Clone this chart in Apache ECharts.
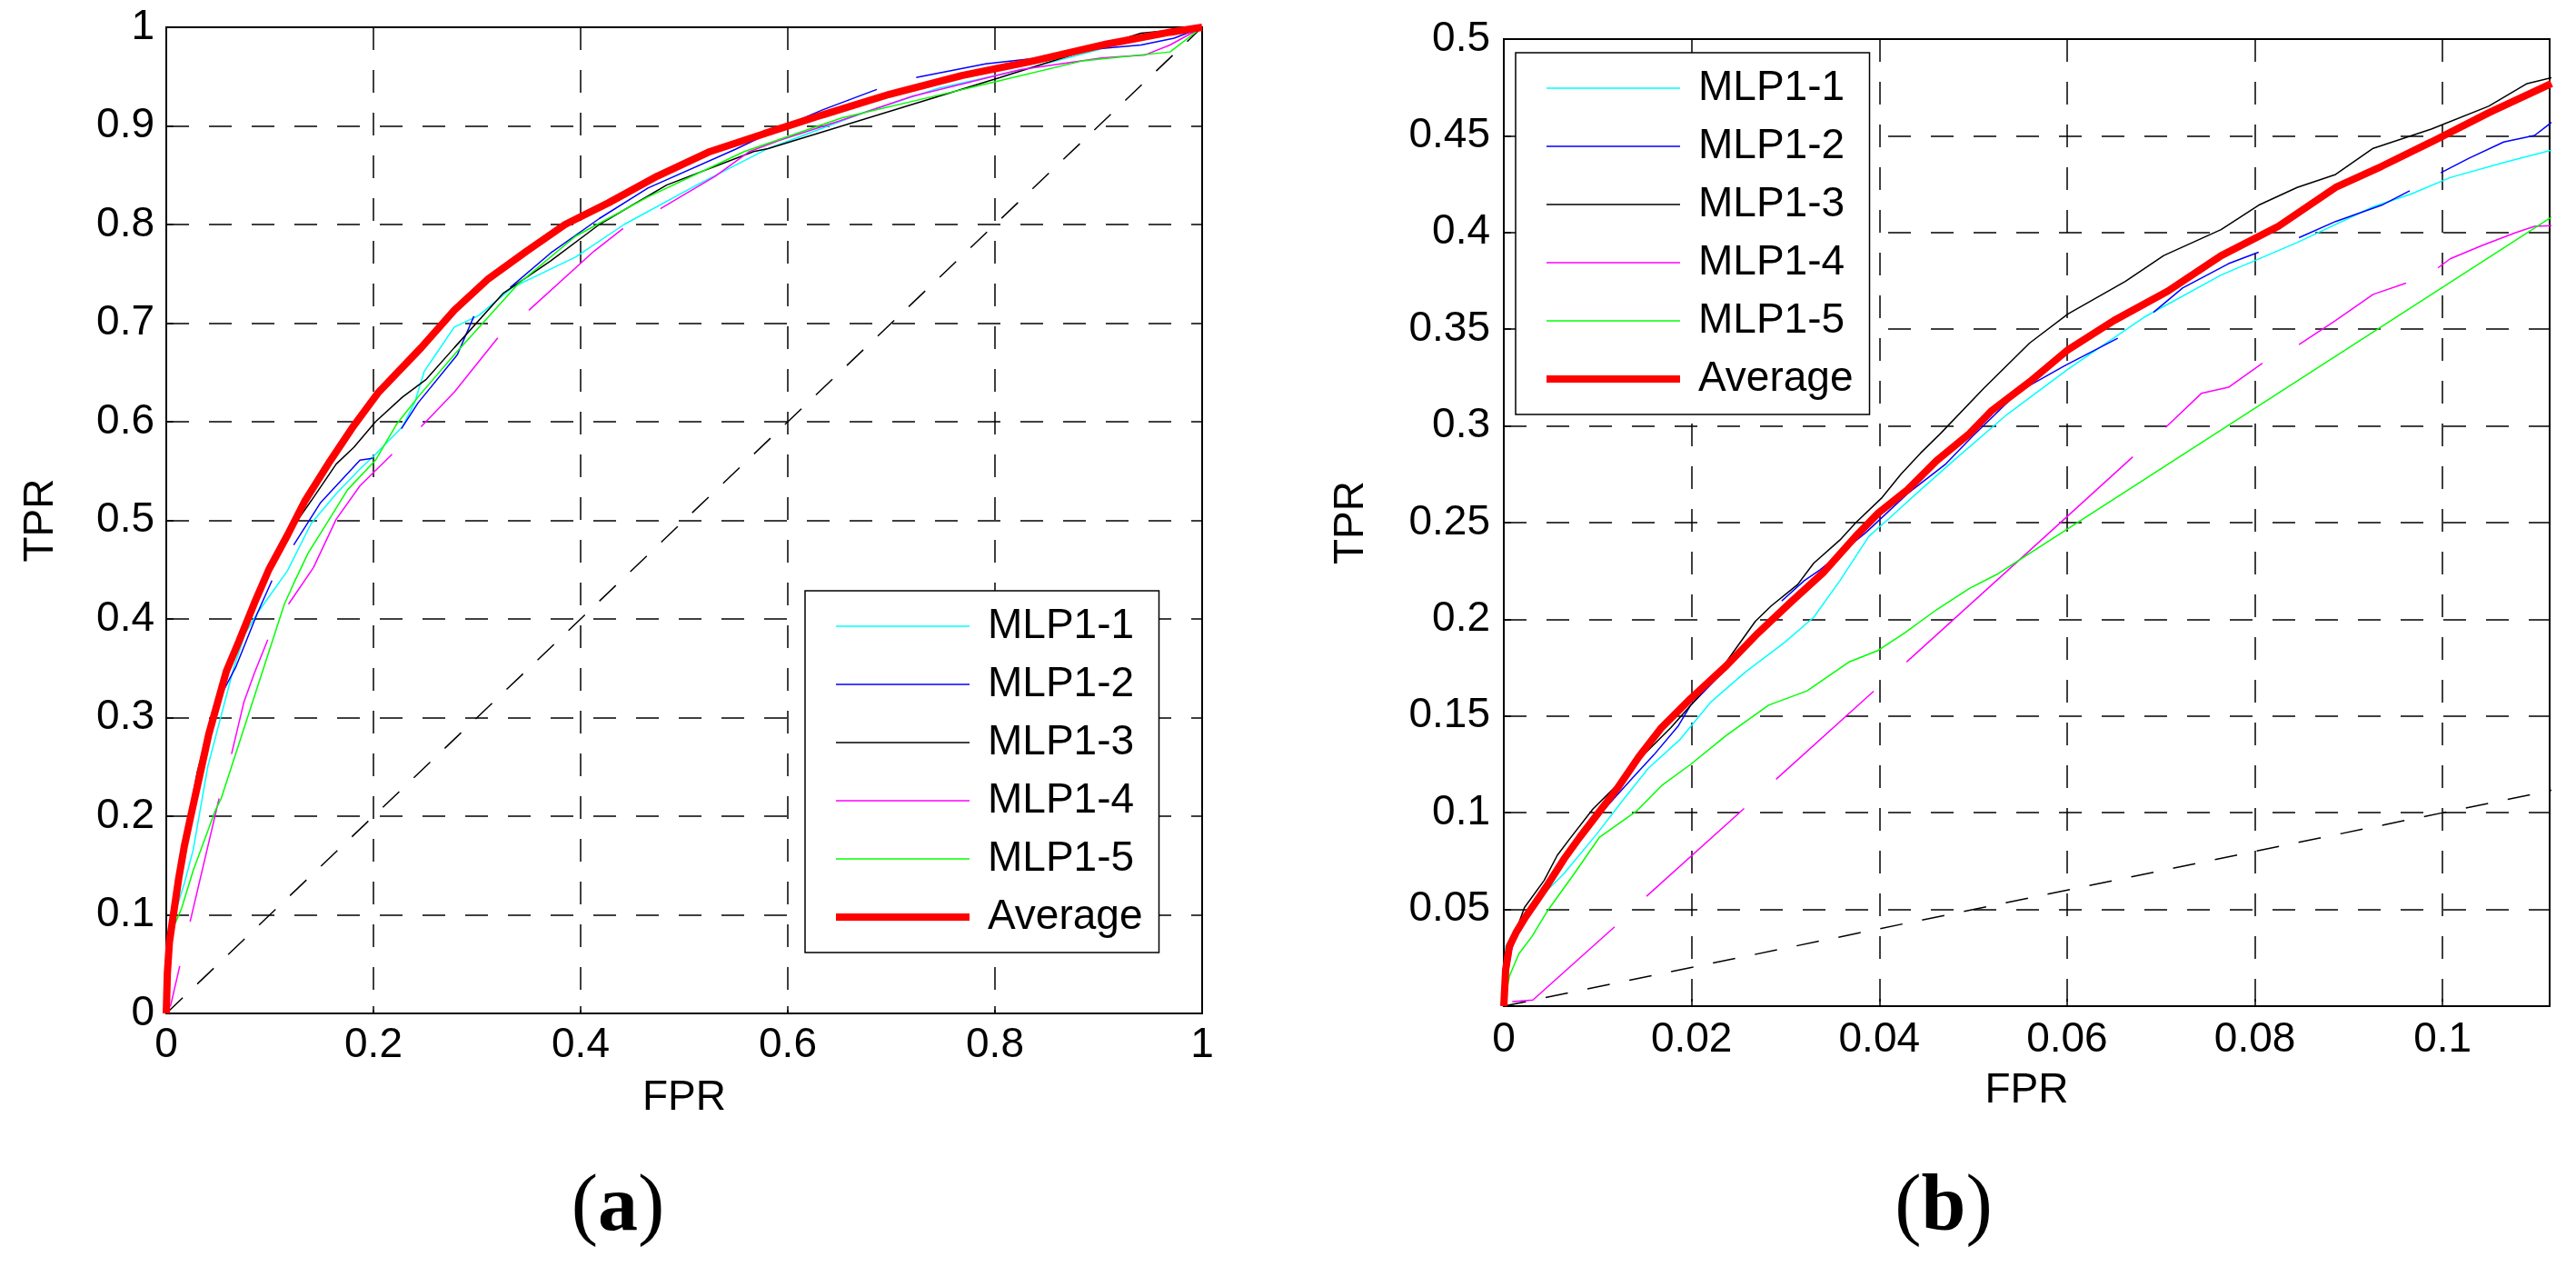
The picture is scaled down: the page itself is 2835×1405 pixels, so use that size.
<!DOCTYPE html>
<html>
<head>
<meta charset="utf-8">
<title>ROC MLP1</title>
<script src="https://cdn.jsdelivr.net/npm/echarts@6/dist/echarts.min.js"></script>
<style>
  html, body { margin: 0; padding: 0; background: #fff; }
  #chart { width: 2835px; height: 1405px; }
</style>
</head>
<body>
<div id="chart"></div>
<script type="text/javascript">
// legend / series names
var names = ['MLP1-1', 'MLP1-2', 'MLP1-3', 'MLP1-4', 'MLP1-5', 'Average'];
var colors = ['#00ffff', '#0000ff', '#000000', '#ff00ff', '#00ff00', '#ff0000'];

// tick labels
var ticksXa = [0, 0.2, 0.4, 0.6, 0.8, 1];
var ticksYa = [0, 0.1, 0.2, 0.3, 0.4, 0.5, 0.6, 0.7, 0.8, 0.9, 1];
var ticksXb = [0, 0.02, 0.04, 0.06, 0.08, 0.1];
var ticksYb = [0.05, 0.1, 0.15, 0.2, 0.25, 0.3, 0.35, 0.4, 0.45, 0.5];

// ---- panel (a): full ROC, [FPR, TPR], null = break in the curve
var a_mlp11 = [[0,0],[0.003,0.06],[0.008,0.1],[0.0175,0.132],[0.026,0.166],[0.04,0.25],[0.055,0.31],[0.065,0.35],
  [0.076,0.385],[0.088,0.406],[0.117,0.449],[0.14,0.497],[0.164,0.527],[0.187,0.552],[0.202,0.567],[0.228,0.595],
  [0.24,0.62],[0.249,0.651],[0.26,0.668],[0.278,0.696],[0.302,0.708],[0.334,0.736],[0.395,0.767],[0.442,0.8],
  [0.512,0.84],[0.581,0.877],[0.675,0.914],[0.745,0.938],[0.838,0.96],[0.917,0.982],[1,1]];
var a_mlp12 = [[0,0],[0.003,0.07],[0.012,0.14],[0.025,0.21],[0.04,0.28],[0.05,0.317],[0.067,0.351],[0.088,0.406],[0.102,0.439],null,
  [0.123,0.475],[0.149,0.518],[0.187,0.561],[0.199,0.563],null,
  [0.227,0.593],[0.243,0.619],[0.281,0.668],[0.297,0.707],null,
  [0.332,0.736],[0.371,0.771],[0.418,0.806],[0.465,0.837],[0.549,0.876],[0.595,0.899],[0.633,0.916],[0.686,0.937],null,
  [0.724,0.949],[0.791,0.963],[0.842,0.969],[0.899,0.978],[0.941,0.982],[0.973,0.989],[1,1]];
var a_mlp13 = [[0,0],[0.002,0.06],[0.005,0.09],[0.012,0.14],[0.02,0.19],[0.03,0.245],[0.04,0.285],[0.05,0.322],[0.06,0.355],
  [0.079,0.406],[0.1,0.45],[0.12,0.49],[0.14,0.52],[0.164,0.557],[0.181,0.574],[0.202,0.6],[0.228,0.625],[0.251,0.643],
  [0.278,0.675],[0.325,0.73],[0.371,0.763],[0.418,0.8],[0.483,0.84],[0.567,0.874],[0.581,0.877],[0.805,0.949],[0.941,0.994],[1,1]];
var a_mlp14 = [[0.004,0.007],[0.013,0.048],null,
  [0.023,0.093],[0.051,0.218],null,
  [0.063,0.263],[0.075,0.316],[0.085,0.345],[0.098,0.379],null,
  [0.118,0.415],[0.142,0.452],[0.164,0.501],[0.187,0.535],[0.218,0.567],null,
  [0.246,0.595],[0.278,0.63],[0.32,0.685],null,
  [0.35,0.713],[0.413,0.773],[0.441,0.796],null,
  [0.477,0.816],[0.53,0.849],[0.563,0.874],[0.591,0.885],[0.65,0.905],[0.72,0.93],[0.824,0.957],[0.903,0.969],
  [0.945,0.972],[0.969,0.982],[1,1]];
var a_mlp15 = [[0,0],[0.003,0.06],[0.008,0.09],[0.0146,0.106],[0.026,0.145],[0.038,0.179],[0.047,0.205],[0.053,0.218],
  [0.114,0.415],[0.123,0.436],[0.137,0.467],[0.152,0.492],[0.175,0.531],[0.202,0.561],[0.222,0.597],[0.243,0.625],
  [0.278,0.668],[0.339,0.739],[0.395,0.788],[0.465,0.828],[0.558,0.874],[0.652,0.908],[0.745,0.931],[0.801,0.945],
  [0.885,0.966],[0.969,0.975],[1,1]];
var a_avg = [[0,0],[0.001,0.04],[0.003,0.072],[0.006,0.094],[0.012,0.137],[0.0175,0.17],[0.023,0.197],[0.032,0.24],
  [0.041,0.283],[0.05,0.317],[0.058,0.347],[0.07,0.377],[0.085,0.416],[0.099,0.45],[0.117,0.485],[0.134,0.52],
  [0.158,0.56],[0.181,0.596],[0.205,0.63],[0.246,0.675],[0.278,0.713],[0.311,0.745],[0.348,0.773],[0.385,0.8],
  [0.427,0.822],[0.474,0.849],[0.525,0.874],[0.577,0.892],[0.633,0.911],[0.698,0.932],[0.768,0.951],[0.838,0.966],
  [0.908,0.983],[0.969,0.995],[1,1]];
var a_chance = [[0,0],[1,1]];

// ---- panel (b): zoom on low FPR
var b_mlp11 = [[0,0],[0.0002,0.031],[0.0025,0.0496],[0.0064,0.0685],[0.0099,0.089],[0.0126,0.106],[0.0154,0.123],
  [0.0188,0.138],[0.022,0.157],[0.0258,0.173],[0.0299,0.188],[0.033,0.201],[0.0358,0.22],[0.0389,0.243],[0.041,0.252],
  [0.0444,0.267],[0.0479,0.282],[0.0536,0.3059],[0.0601,0.3294],[0.0682,0.3562],[0.0764,0.378],[0.0845,0.3948],
  [0.0926,0.4133],[0.0967,0.42],[0.1008,0.4284],[0.1069,0.4367],[0.1116,0.4426]];
var b_mlp12 = [[0,0],[0.0005,0.025],[0.002,0.045],[0.004,0.06],[0.007,0.08],[0.01,0.098],[0.0137,0.118],[0.016,0.13],
  [0.0186,0.145],[0.0199,0.1556],[0.024,0.176],[0.027,0.193],[0.0285,0.2],null,
  [0.0296,0.2095],[0.032,0.22],[0.0337,0.2256],[0.0386,0.245],[0.043,0.265],[0.047,0.28],[0.05,0.295],[0.0548,0.3176],
  [0.0597,0.331],[0.0654,0.3453],null,
  [0.0692,0.3587],[0.0723,0.3713],[0.0772,0.3839],[0.0804,0.3898],null,
  [0.0847,0.3973],[0.0886,0.4057],[0.0935,0.4141],[0.0965,0.4216],null,
  [0.0998,0.4309],[0.1028,0.4384],[0.1065,0.4468],[0.1098,0.4502],[0.1116,0.4569]];
var b_mlp13 = [[0,0],[0.0005,0.02],[0.001,0.035],[0.0022,0.051],[0.0043,0.065],[0.0057,0.078],[0.0071,0.087],
  [0.0095,0.102],[0.012,0.114],[0.0147,0.129],[0.0178,0.144],[0.0209,0.161],[0.0237,0.178],[0.0268,0.199],
  [0.0285,0.207],[0.0313,0.218],[0.033,0.229],[0.0358,0.241],[0.0375,0.25],[0.0403,0.263],[0.0423,0.275],
  [0.0444,0.286],[0.0465,0.296],[0.0511,0.3193],[0.056,0.3428],[0.0601,0.3579],[0.0662,0.3747],[0.0703,0.3881],
  [0.0764,0.4015],[0.0804,0.4141],[0.0845,0.4233],[0.0886,0.43],[0.0926,0.4435],[0.0988,0.4535],[0.1049,0.4653],
  [0.109,0.477],[0.1116,0.48]];
var b_mlp14 = [[0.0009,0.0023],[0.0031,0.0032],[0.0118,0.041],null,
  [0.0152,0.0568],[0.0256,0.1022],null,
  [0.029,0.1173],[0.0394,0.1628],null,
  [0.0429,0.1779],[0.0568,0.239],[0.067,0.284],null,
  [0.0705,0.2992],[0.0743,0.3168],[0.0772,0.32],[0.0808,0.3324],null,
  [0.0847,0.342],[0.0886,0.3545],[0.0926,0.368],[0.0961,0.3738],null,
  [0.0995,0.3817],[0.1008,0.3864],[0.1041,0.3931],[0.1077,0.3998],[0.1098,0.4032],[0.1116,0.4035]];
var b_mlp15 = [[0,0],[0.0002,0.006],[0.0006,0.0155],[0.0016,0.027],[0.003,0.036],[0.0047,0.0496],[0.0075,0.0685],
  [0.0102,0.0874],[0.0141,0.1007],[0.0168,0.114],[0.0199,0.125],[0.0237,0.14],[0.0282,0.1556],[0.0323,0.163],
  [0.0368,0.178],[0.0399,0.184],[0.0427,0.193],[0.0461,0.205],[0.0496,0.216],[0.0527,0.2237],[0.1116,0.408]];
var b_avg = [[0,0],[0.0002,0.019],[0.0006,0.031],[0.0013,0.038],[0.0023,0.046],[0.0033,0.053],[0.0047,0.063],
  [0.0064,0.076],[0.0081,0.0874],[0.0099,0.0988],[0.012,0.112],[0.0144,0.129],[0.0168,0.144],[0.0199,0.159],
  [0.0237,0.176],[0.0271,0.193],[0.0306,0.209],[0.034,0.224],[0.0375,0.243],[0.0399,0.255],[0.043,0.267],
  [0.0461,0.282],[0.0496,0.296],[0.0519,0.3076],[0.056,0.3227],[0.0601,0.3394],[0.065,0.3545],[0.0707,0.3696],
  [0.0764,0.388],[0.0825,0.4032],[0.0886,0.4233],[0.0935,0.4342],[0.0988,0.4468],[0.1049,0.4619],[0.1116,0.477]];
var b_chance = [[0,0],[0.1116,0.1116]];

var FONT = "'Liberation Sans', Arial, sans-serif";
var DASH = [25, 22];
var THIN = 1.5, THICK = 8;

function pts(arr) {
  // null -> empty point so the line breaks there
  return arr.map(function (p) { return p === null ? ['-', '-'] : p; });
}

function curve(name, data, idx, color, width) {
  return {
    name: name, type: 'line', xAxisIndex: idx, yAxisIndex: idx,
    data: pts(data), symbol: 'none', connectNulls: false, animation: false,
    lineStyle: { color: color, width: width }, itemStyle: { color: color }
  };
}

function chance(data, idx) {
  return {
    type: 'line', xAxisIndex: idx, yAxisIndex: idx, data: data, symbol: 'none', silent: true,
    animation: false, lineStyle: { color: '#000', width: 1.5, type: DASH }
  };
}

function isTick(v, list) {
  for (var i = 0; i < list.length; i++) {
    if (Math.abs(v - list[i]) < 1e-6) return true;
  }
  return false;
}

function xAxisOf(idx, max, interval, ticks, margin) {
  return {
    type: 'value', gridIndex: idx, min: 0, max: max, interval: interval,
    name: 'FPR', nameLocation: 'middle', nameGap: 70,
    nameTextStyle: { fontFamily: FONT, fontSize: 46, color: '#000' },
    axisLine: { show: true, lineStyle: { color: '#000', width: 2 } },
    axisTick: { show: true, inside: true, length: 8, lineStyle: { color: '#000', width: 1.5 } },
    axisLabel: {
      fontFamily: FONT, fontSize: 46, color: '#000', margin: margin,
      formatter: function (v) { return isTick(v, ticks) ? String(+v.toFixed(3)) : ''; }
    },
    splitLine: { show: true, lineStyle: { color: '#000', width: 1.5, type: DASH } }
  };
}

function yAxisOf(idx, max, interval, ticks, gap, margin) {
  return {
    type: 'value', gridIndex: idx, min: 0, max: max, interval: interval,
    name: 'TPR', nameLocation: 'middle', nameGap: gap, nameRotate: 90,
    nameTextStyle: { fontFamily: FONT, fontSize: 46, color: '#000' },
    axisLine: { show: true, lineStyle: { color: '#000', width: 2 } },
    axisTick: { show: true, inside: true, length: 8, lineStyle: { color: '#000', width: 1.5 } },
    axisLabel: {
      fontFamily: FONT, fontSize: 46, color: '#000', margin: margin,
      formatter: function (v) { return isTick(v, ticks) ? String(+v.toFixed(3)) : ''; }
    },
    splitLine: { show: true, lineStyle: { color: '#000', width: 1.5, type: DASH } }
  };
}

function legendAt(left, top) {
  var items = names.map(function (n, i) {
    return { name: n, lineStyle: { width: i === 5 ? THICK : THIN } };
  });
  return {
    data: items, orient: 'vertical', left: left, top: top,
    padding: [16, 18, 16, 30], itemWidth: 147, itemHeight: 20, itemGap: 18,
    backgroundColor: '#fff', borderColor: '#000', borderWidth: 1.5, borderRadius: 0,
    selectedMode: false,
    itemStyle: { opacity: 0 },
    textStyle: { fontFamily: FONT, fontSize: 46, lineHeight: 46, color: '#000', padding: [0, 0, 0, 15] }
  };
}

function caption(x, letter) {
  return {
    type: 'text', x: x, y: 1330, silent: true,
    style: {
      text: '{p|(}{b|' + letter + '}{p|)}', align: 'center', verticalAlign: 'middle',
      rich: {
        p: { fontFamily: "'Liberation Serif', 'Times New Roman', serif", fontSize: 88, fill: '#000' },
        b: { fontFamily: "'Liberation Serif', 'Times New Roman', serif", fontSize: 88, fontWeight: 'bold', fill: '#000' }
      }
    }
  };
}

var seriesA = [a_mlp11, a_mlp12, a_mlp13, a_mlp14, a_mlp15, a_avg];
var seriesB = [b_mlp11, b_mlp12, b_mlp13, b_mlp14, b_mlp15, b_avg];
var series = [chance(a_chance, 0), chance(b_chance, 1)];
for (var i = 0; i < names.length; i++) {
  series.push(curve(names[i], seriesA[i], 0, colors[i], i === 5 ? THICK : THIN));
}
for (var i = 0; i < names.length; i++) {
  series.push(curve(names[i], seriesB[i], 1, colors[i], i === 5 ? THICK : THIN));
}

var chart = echarts.init(document.getElementById('chart'));
chart.setOption({
  backgroundColor: '#fff',
  animation: false,
  grid: [
    { left: 183, top: 30, width: 1140, height: 1085, show: true, borderColor: '#000', borderWidth: 2 },
    { left: 1655, top: 43, width: 1151, height: 1064, show: true, borderColor: '#000', borderWidth: 2 }
  ],
  xAxis: [
    xAxisOf(0, 1, 0.2, ticksXa, 12),
    xAxisOf(1, 0.1114, 0.02, ticksXb, 14)
  ],
  yAxis: [
    yAxisOf(0, 1, 0.1, ticksYa, 115, 13),
    yAxisOf(1, 0.5, 0.05, ticksYb, 145, 15)
  ],
  legend: [legendAt(886, 650), legendAt(1668, 58)],
  graphic: [caption(680, 'a'), caption(2139, 'b')],
  series: series
});
</script>
</body>
</html>
